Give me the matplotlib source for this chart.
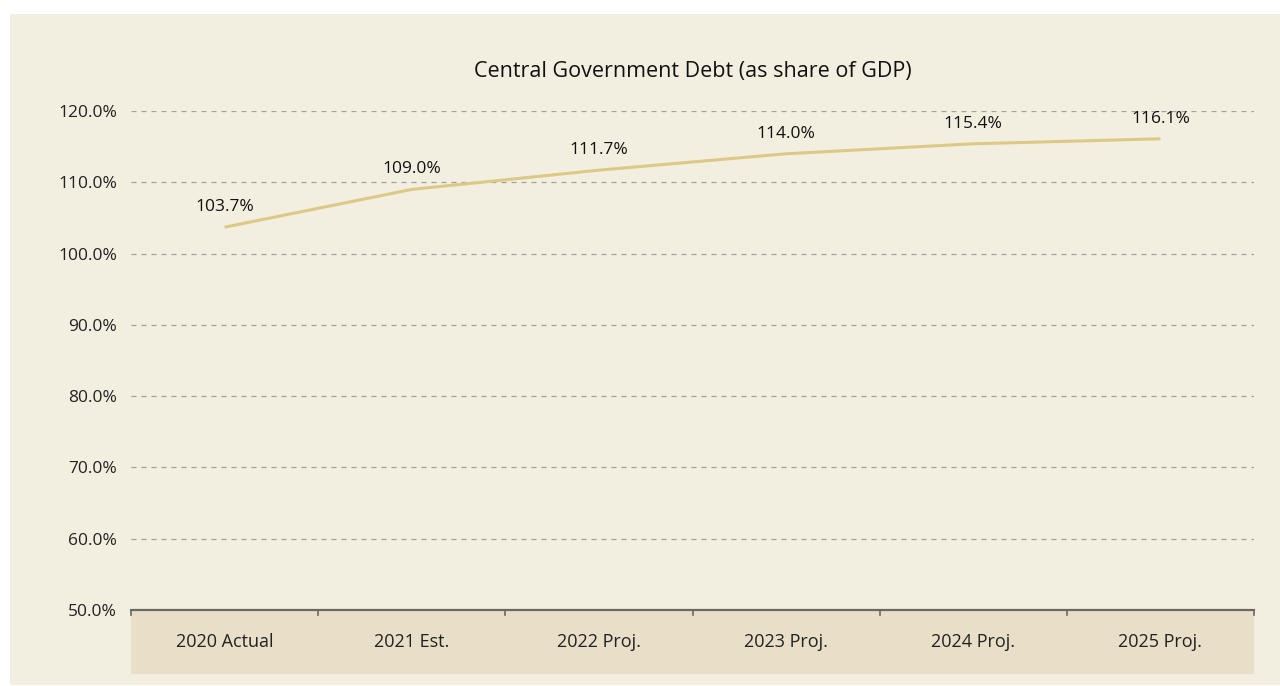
import matplotlib.pyplot as plt
from matplotlib.patches import Rectangle
from matplotlib.ticker import FuncFormatter, FixedLocator

# --- Datos ---
categorias = ["2020 Actual", "2021 Est.", "2022 Proj.", "2023 Proj.", "2024 Proj.", "2025 Proj."]
deuda_pib = [103.7, 109.0, 111.7, 114.0, 115.4, 116.1]
titulo = "Central Government Debt (as share of GDP)"
# -------------

plt.rcParams['font.family'] = ['Open Sans', 'DejaVu Sans']

W, H = 1280, 686
fig = plt.figure(figsize=(W / 100, H / 100), dpi=100)
fig.patch.set_facecolor("white")

# panel de fondo
fig.patches.append(Rectangle((10 / W, 1 / H), 1 - 10 / W, (686 - 15) / H,
                             transform=fig.transFigure, facecolor="#f2efe0",
                             edgecolor="none", zorder=-5))

ax = fig.add_axes([131 / W, 76 / H, 1123 / W, 499 / H])
ax.set_facecolor("none")
ax.set_zorder(1)

x = list(range(len(categorias)))
ax.plot(x, deuda_pib, color="#dcc985", linewidth=2.2, solid_capstyle="butt", zorder=3)

for xi, v in zip(x, deuda_pib):
    ax.annotate(f"{v:.1f}%", (xi, v), textcoords="offset pixels", xytext=(0, 12),
                ha="center", va="bottom", fontsize=12.5, color="#111111")

ax.set_xlim(-0.5, len(categorias) - 0.5)
ax.set_ylim(50, 120)
ax.yaxis.set_major_locator(FixedLocator(range(50, 121, 10)))
ax.yaxis.set_major_formatter(FuncFormatter(lambda v, p: f"{v:.1f}%"))
ax.tick_params(axis="y", length=0, pad=10, labelsize=12.5, labelcolor="#222222")
ax.grid(axis="y", linestyle=(0, (4, 4)), color="#a0a0a0", linewidth=0.9)

# eje x: marcas en los bordes de cada categoría
bordes = [i - 0.5 for i in range(len(categorias) + 1)]
ax.set_xticks(bordes)
ax.set_xticklabels([])
ax.tick_params(axis="x", length=0)
for t in bordes:
    ax.plot([t, t], [0, -5 / 499], transform=ax.get_xaxis_transform(),
            color="#6b6a5e", linewidth=1.2, clip_on=False, zorder=4)

for s in ["top", "right", "left"]:
    ax.spines[s].set_visible(False)
ax.spines["bottom"].set_color("#6b6a5e")
ax.spines["bottom"].set_linewidth(1.6)
ax.spines["bottom"].set_zorder(4)

# franja de categorías
banda = 64 / 499
ax.add_patch(Rectangle((-0.5, -banda), len(categorias), banda,
                       transform=ax.get_xaxis_transform(), facecolor="#e9dfc8",
                       edgecolor="none", clip_on=False, zorder=1))
for xi, c in zip(x, categorias):
    ax.text(xi, -banda / 2, c, transform=ax.get_xaxis_transform(),
            ha="center", va="center", fontsize=13, color="#222222")

fig.text((131 + 1123 / 2) / W, 1 - 71 / H, titulo, ha="center", va="center",
         fontsize=15.5, color="#111111")

plt.savefig("out.png", dpi=100)
